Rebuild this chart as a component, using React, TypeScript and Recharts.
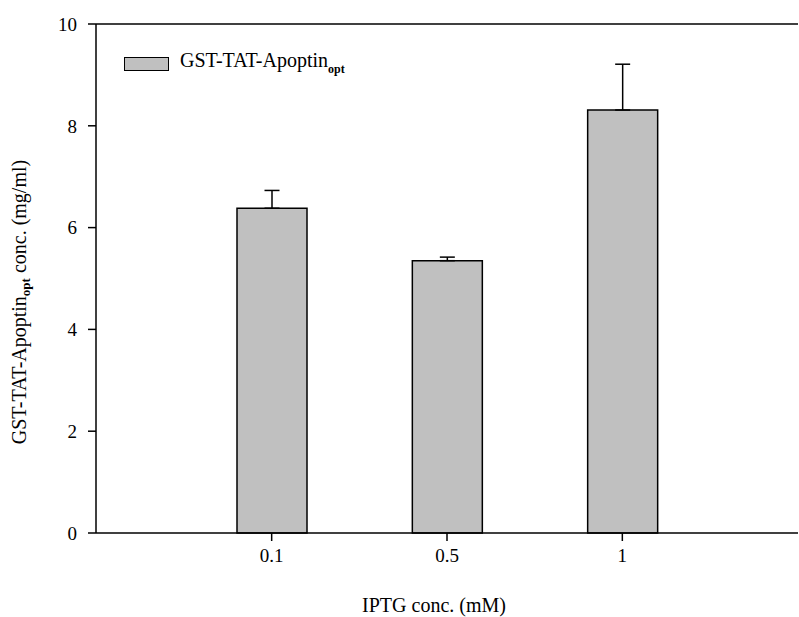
import React from "react";
import { Bar, BarChart, ErrorBar, Label, ReferenceLine, XAxis, YAxis } from "recharts";

const FONT = "'Liberation Serif', 'DejaVu Serif', serif";

// values
const categories = ["0.1", "0.5", "1"];
const concValues = [6.38, 5.35, 8.31];
const concErrors = [0.35, 0.07, 0.9];
const yTicks = [0, 2, 4, 6, 8, 10];

const data = categories.map((name, i) => ({
  name,
  value: concValues[i],
  err: [0, concErrors[i]],
}));

const tickStyle = { fill: "#000", fontSize: 19, fontFamily: FONT };

const YLabel = () => (
  <text
    x={21}
    y={302}
    transform="rotate(-90, 21, 302)"
    textAnchor="middle"
    dominantBaseline="middle"
    fontFamily={FONT}
    fontSize={20}
    fill="#000"
  >
    GST-TAT-Apoptin
    <tspan fontSize={13} fontWeight="bold" dy={6}>opt</tspan>
    <tspan dy={-6}> conc. (mg/ml)</tspan>
  </text>
);

const XLabel = () => (
  <text x={434} y={612} textAnchor="middle" fontFamily={FONT} fontSize={20} fill="#000">
    IPTG conc. (mM)
  </text>
);

export default function App() {
  return (
    <div style={{ position: "absolute", left: 0, top: 0, width: 799, height: 617, background: "#fff" }}>
      <BarChart width={799} height={617} data={data} margin={{ top: 24, right: 1, left: 0, bottom: 0 }}>
        <XAxis
          dataKey="name"
          interval={0}
          height={84}
          padding={{ left: 88, right: 88 }}
          tickSize={8}
          tickMargin={8}
          tick={tickStyle}
          axisLine={{ stroke: "#000", strokeWidth: 1.5 }}
          tickLine={{ stroke: "#000", strokeWidth: 1.5 }}
        >
          <Label content={<XLabel />} />
        </XAxis>
        <YAxis
          width={96}
          domain={[0, 10]}
          ticks={yTicks}
          tickSize={8}
          tickMargin={11}
          tick={tickStyle}
          axisLine={{ stroke: "#000", strokeWidth: 1.5 }}
          tickLine={{ stroke: "#000", strokeWidth: 1.5 }}
        >
          <Label content={<YLabel />} />
        </YAxis>
        <ReferenceLine y={10} stroke="#000" strokeWidth={1.5} />
        <Bar dataKey="value" barSize={70} fill="#c0c0c0" stroke="#000" strokeWidth={1.5} isAnimationActive={false}>
          <ErrorBar dataKey="err" width={7.5} stroke="#000" strokeWidth={1.5} direction="y" />
        </Bar>
      </BarChart>
      <div
        style={{
          position: "absolute",
          left: 124,
          top: 57,
          width: 45,
          height: 14,
          boxSizing: "border-box",
          background: "#c0c0c0",
          border: "1.5px solid #000",
        }}
      />
      <div
        style={{
          position: "absolute",
          left: 180,
          top: 49,
          fontFamily: FONT,
          fontSize: 20,
          lineHeight: "23px",
          color: "#000",
          whiteSpace: "nowrap",
        }}
      >
        GST-TAT-Apoptin
        <span style={{ fontSize: 12, fontWeight: "bold", position: "relative", top: 6 }}>opt</span>
      </div>
    </div>
  );
}
